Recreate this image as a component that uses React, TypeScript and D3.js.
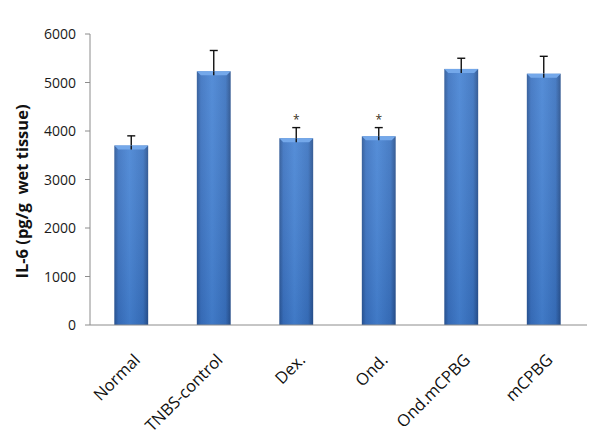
import React from "react";
import * as d3 from "d3";

const categories = ["Normal", "TNBS-control", "Dex.", "Ond.", "Ond.mCPBG", "mCPBG"];
const values = [3700, 5230, 3850, 3890, 5280, 5180];
const errors = [200, 430, 220, 180, 220, 360];
const significant = [false, false, true, true, false, false];
const yTicks = [0, 1000, 2000, 3000, 4000, 5000, 6000];
const yTitle = "IL-6 (pg/g  wet tissue)";

const W = 600;
const H = 436;
const left = 90;
const right = 585;
const top = 34;
const bottom = 325;

export default function App() {
  const x = d3
    .scaleBand<string>()
    .domain(categories)
    .range([left, right])
    .paddingInner(0.59)
    .paddingOuter(0.295);
  const y = d3.scaleLinear().domain([0, 6000]).range([bottom, top]);
  const bw = x.bandwidth();
  const font = "'Open Sans', 'Liberation Sans', sans-serif";

  return (
    <svg width={W} height={H} style={{ position: "absolute", left: 0, top: 0, background: "#fff" }}>
      <defs>
        <linearGradient id="barH" x1="0" x2="1" y1="0" y2="0">
          <stop offset="0" stopColor="#2a5594" />
          <stop offset="0.12" stopColor="#3b72c0" />
          <stop offset="0.45" stopColor="#4784d4" />
          <stop offset="0.85" stopColor="#3a72bf" />
          <stop offset="1" stopColor="#28508c" />
        </linearGradient>
        <linearGradient id="barV" x1="0" x2="0" y1="0" y2="1">
          <stop offset="0" stopColor="#ffffff" stopOpacity="0.08" />
          <stop offset="1" stopColor="#0a2a60" stopOpacity="0.12" />
        </linearGradient>
      </defs>
      {/* y axis */}
      <line x1={left} x2={left} y1={y(6000)} y2={y(0)} stroke="#8c8c8c" strokeWidth={1} />
      {yTicks.map((t) => (
        <g key={t}>
          <line x1={left - 5} x2={left} y1={y(t)} y2={y(t)} stroke="#8c8c8c" strokeWidth={1} />
          <text
            x={left - 14}
            y={y(t)}
            dy="0.36em"
            textAnchor="end"
            fontFamily={font}
            fontSize={14}
            fill="#1a1a1a"
          >
            {t}
          </text>
        </g>
      ))}
      <text
        transform={`translate(28, ${(top + bottom) / 2 + 12}) rotate(-90)`}
        textAnchor="middle"
        fontFamily={font}
        fontSize={16.5}
        fontWeight="bold"
        fill="#111"
        style={{ whiteSpace: "pre" }}
      >
        {yTitle}
      </text>
      {/* bars */}
      {categories.map((c, i) => {
        const bx = x(c)!;
        const by = y(values[i]);
        const bh = y(0) - by;
        const cx = bx + bw / 2;
        const ey = y(values[i] + errors[i]);
        const bev = 4;
        return (
          <g key={c}>
            <line x1={cx} x2={cx} y1={by} y2={ey} stroke="#111" strokeWidth={1.4} />
            <line x1={cx - 4} x2={cx + 4} y1={ey} y2={ey} stroke="#111" strokeWidth={1.4} />
            <rect x={bx} y={by} width={bw} height={bh} fill="url(#barH)" />
            <rect x={bx} y={by} width={bw} height={bh} fill="url(#barV)" />
            <polygon
              points={`${bx},${by} ${bx + bw},${by} ${bx + bw - bev},${by + bev} ${bx + bev},${by + bev}`}
              fill="#74a8ea"
            />
            <line x1={cx} x2={cx} y1={by} y2={by + bev} stroke="#111" strokeWidth={1.4} />
            {significant[i] && (
              <text
                x={cx}
                y={ey - 4}
                textAnchor="middle"
                fontFamily={font}
                fontSize={12}
                fill="#3a3020"
              >
                *
              </text>
            )}
          </g>
        );
      })}
      {/* x axis */}
      <line x1={left} x2={587} y1={y(0)} y2={y(0)} stroke="#8c8c8c" strokeWidth={1} />
      {categories.map((c) => {
        const cx = x(c)! + bw / 2;
        return (
          <text
            key={c}
            transform={`translate(${cx + 10}, ${bottom + 36}) rotate(-45)`}
            textAnchor="end"
            fontFamily={font}
            fontSize={16.5}
            fill="#111"
          >
            {c}
          </text>
        );
      })}
    </svg>
  );
}
